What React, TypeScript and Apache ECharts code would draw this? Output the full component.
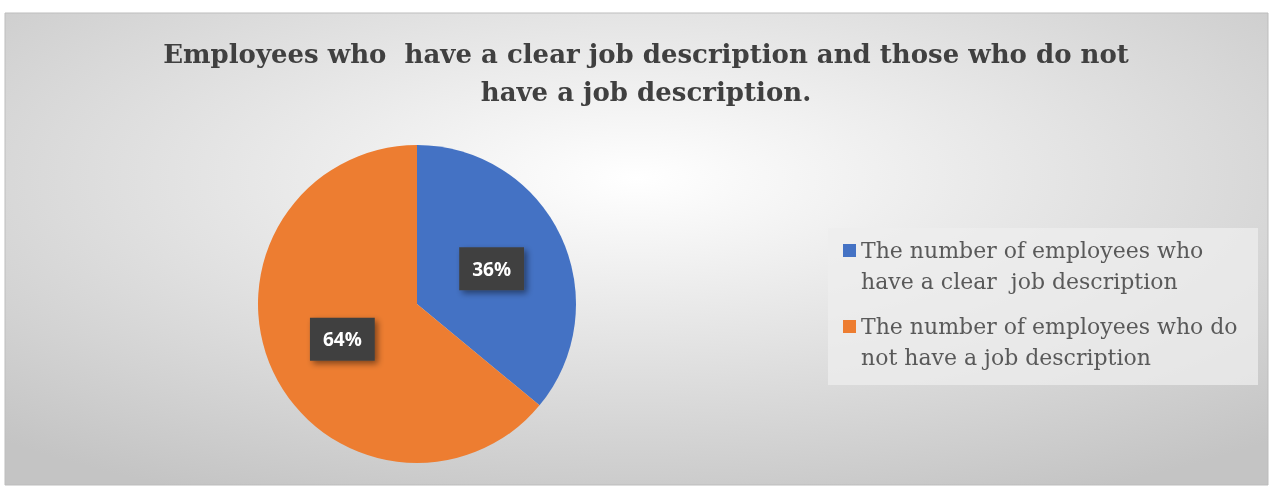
import React, { useEffect, useRef } from "react";
import * as echarts from "echarts";

const titleLines = [
  "Employees who  have a clear job description and those who do not",
  "have a job description.",
];
const categories = [
  "The number of employees who\nhave a clear  job description",
  "The number of employees who do\nnot have a job description",
];
const values = [36, 64];
const colors = ["#4472c4", "#ed7d31"];

export default function App() {
  const ref = useRef<HTMLDivElement>(null);
  useEffect(() => {
    const chart = echarts.init(ref.current!, null, { renderer: "svg" });
    chart.setOption({
      animation: false,
      graphic: [
        {
          type: "rect",
          z: -10,
          shape: { x: 5, y: 13, width: 1263, height: 472 },
          style: {
            fill: new echarts.graphic.RadialGradient(0.5, 0.35, 0.75, [
              { offset: 0, color: "#ffffff" },
              { offset: 1, color: "#c4c4c4" },
            ]),
            stroke: "#bdbdbd",
            lineWidth: 1,
          },
        },
        {
          type: "rect",
          z: -5,
          shape: { x: 828, y: 228, width: 430, height: 157 },
          style: { fill: "rgba(238,238,238,0.75)" },
        },
      ],
      title: {
        text: titleLines.join("\n"),
        left: 641,
        textAlign: "center",
        top: 30,
        textStyle: {
          fontFamily: "DejaVu Serif",
          fontWeight: "bold",
          fontSize: 26,
          lineHeight: 38,
          color: "#404040",
        },
      },
      legend: {
        orient: "vertical",
        left: 838,
        top: 229,
        itemWidth: 13,
        itemHeight: 64,
        itemGap: 12,
        icon: "path://M0,0h0.01v0.01h-0.01z M0,10h13v13h-13z M0,63.99h0.01v0.01h-0.01z",
        textStyle: {
          fontFamily: "DejaVu Serif",
          fontSize: 22,
          lineHeight: 31,
          color: "#595959",
        },
        data: categories,
      },
      series: [
        {
          type: "pie",
          center: [417, 304],
          radius: 159,
          startAngle: 90,
          clockwise: true,
          label: {
            show: true,
            position: "inside",
            formatter: "{d}%",
            backgroundColor: "#404040",
            padding: [12, 13],
            color: "#ffffff",
            fontFamily: "Open Sans",
            fontWeight: "bold",
            fontSize: 19,
            shadowColor: "rgba(0,0,0,0.45)",
            shadowBlur: 6,
            shadowOffsetX: 3,
            shadowOffsetY: 3,
          },
          labelLine: { show: false },
          itemStyle: { borderWidth: 0 },
          data: categories.map((c, i) => ({
            name: c,
            value: values[i],
            itemStyle: { color: colors[i] },
          })),
        },
      ],
    });
    return () => chart.dispose();
  }, []);
  return (
    <div
      ref={ref}
      style={{ position: "fixed", left: 0, top: 0, width: 1273, height: 487 }}
    />
  );
}
